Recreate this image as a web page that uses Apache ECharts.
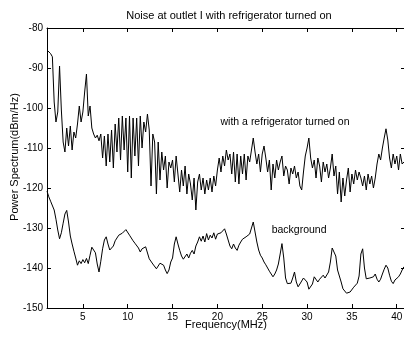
<!DOCTYPE html>
<html>
<head>
<meta charset="utf-8">
<script src="https://cdn.jsdelivr.net/npm/echarts@6/dist/echarts.min.js"></script>
<style>
  html, body { margin: 0; padding: 0; background: #fff; }
  #chart { width: 404px; height: 340px; }
</style>
</head>
<body>
<div id="chart"></div>
<script>
// Sampling grid of the spectrum (MHz)
const freqStart = 1.0;
const freqStep = 0.2;

// Power spectrum with the refrigerator running (dBm/Hz)
const withFridge = [
  -85.5, -86.0, -86.4, -87.2, -98.5, -103.5, -101, -89.5, -100.5, -108.5,
  -111, -105, -109.5, -104.5, -110.5, -106, -107.5, -104, -99.5, -103.5,
  -101, -96, -91.5, -102, -99.5, -105, -106.5, -107.5, -106.8, -108.2,
  -106.5, -112.5, -107, -114.5, -106.5, -113.5, -105.5, -115, -104, -111,
  -102.5, -113, -102, -110.5, -102.5, -116, -102, -117.5, -102.5, -112,
  -102.5, -114.5, -102, -110, -103.5, -106, -101.5, -105.5, -119.5, -106.5,
  -108.5, -121.5, -108.5, -118, -111, -115.5, -112, -120, -113.5, -115,
  -113, -118.5, -112, -116.5, -121, -115.5, -119.5, -114.5, -121.5, -116.5,
  -119, -123, -117.5, -125.5, -118.5, -116.5, -120.5, -117.5, -121.5, -118,
  -120.5, -117.5, -121, -117, -119.5, -115.5, -112.5, -116, -112, -114.5,
  -110.5, -113, -111.5, -116.5, -111, -118.5, -111.5, -119, -112, -116.5,
  -111.5, -118, -112, -113.5, -110.5, -107.5, -111, -114, -111.5, -116,
  -111.5, -109.5, -112.5, -116, -113, -120.5, -114, -117.5, -113, -115.5,
  -113.5, -112, -117, -114.5, -115.5, -119, -115, -116.5, -114.5, -117.5,
  -116, -119.5, -120.5, -116, -112, -110, -107.5, -112.5, -115, -113,
  -117.5, -112.5, -114.5, -118.5, -113.5, -116, -114, -117.5, -115, -111.5,
  -117, -114.5, -121.5, -116, -123.5, -117.5, -122, -118, -115, -121,
  -116.5, -119, -115.5, -118, -116, -117.5, -119.5, -117, -120.5, -116.5,
  -119, -117, -120, -117.5, -114, -111.5, -113, -110, -107.5, -105.2,
  -108, -112.5, -115, -111.5, -114, -112, -115.5, -111.5, -114, -113.5
];

// Background noise floor (dBm/Hz)
const background = [
  -120.8, -122.2, -123.3, -123.8, -125.5, -127.8, -130.5, -132.7, -131.2, -128.8,
  -126.5, -125.6, -128.5, -132, -134, -135.8, -137.5, -139.3, -138.2, -138.9,
  -137.9, -138.7, -137.6, -138.9, -136.8, -134.8, -134.3, -136.2, -139, -141,
  -138.3, -135.2, -133, -132.2, -134, -135.5, -136, -134.5, -133.2, -132.5,
  -131.8, -132.2, -131.3, -130.8, -130.4, -130.6, -131.8, -132.5, -133.2, -133.8,
  -134.3, -135, -136, -135.2, -135.6, -134.7, -135.2, -137.7, -138.2, -139,
  -139.5, -140.2, -139.5, -138.8, -138.5, -139.3, -140.5, -141.4, -140.5, -138.5,
  -137.5, -134, -132.2, -134, -135.6, -137, -137.8, -138.1, -136.5, -137.5,
  -136.3, -135.6, -136.5, -134.5, -133.5, -132.2, -133.3, -132, -133.5, -131.4,
  -133, -131.8, -132.5, -131.2, -132.8, -131.5, -132, -131.2, -131.6, -130.2,
  -131.5, -133, -134.5, -135.2, -134, -135, -135.6, -134.3, -133.5, -132.8,
  -133.3, -132.2, -132, -131.5, -130, -128.5, -131, -133.5, -135.5, -136.8,
  -137.5, -138.5, -139.2, -140, -140.8, -141.5, -142.2, -141.5, -140.5, -139,
  -136.5, -133.9, -137.5, -142.5, -143.9, -143.5, -143.8, -142.5, -141, -143.5,
  -144.7, -144, -143.5, -142.5, -142.7, -143.5, -145.3, -145.6, -144, -142.2,
  -142.5, -143.5, -142.8, -142.7, -141.8, -142.5, -142.2, -141, -138.5, -135,
  -134.8, -137, -140.5, -142, -143.5, -145.2, -145.5, -146.3, -146.8, -146,
  -145.5, -144.8, -144.3, -143.8, -142, -136.5, -135.2, -140, -142.7, -143.2,
  -142.5, -143, -142.2, -141.5, -142.8, -143.5, -142.8, -141.5, -140.3, -139.3,
  -140, -141.8, -143.3, -143.9, -143, -142.5, -142.2, -141.5, -140.5, -139.7
];

// Axis ticks
const xTicks = [5, 10, 15, 20, 25, 30, 35, 40];
const yTicks = [-150, -140, -130, -120, -110, -100, -90, -80];

// In-plot annotations: [text, frequency, level]
const notes = [
  ['with a refrigerator turned on', 20.35, -103.6],
  ['background', 26.05, -130.5]
];

const freq = withFridge.map((_, i) => +(freqStart + freqStep * i).toFixed(2));
const pairs = vals => vals.map((v, i) => [freq[i], v]);

const FONT = 'Liberation Sans, Arial, sans-serif';
const INK = '#000';

const chart = echarts.init(document.getElementById('chart'), null, { renderer: 'canvas' });

const tickStyle = { show: true, inside: true, length: 4, lineStyle: { color: INK, width: 1 } };

chart.setOption({
  animation: false,
  backgroundColor: '#fff',
  title: {
    text: 'Noise at outlet I with refrigerator turned on',
    left: 224,
    textAlign: 'center',
    top: 5,
    textStyle: { fontFamily: FONT, fontSize: 11, fontWeight: 'normal', color: INK }
  },
  grid: { left: 47, top: 28, width: 358, height: 280, show: false, outerBoundsMode: 'none' },
  xAxis: [
    {
      type: 'value', min: 1, max: 40.92, position: 'bottom',
      name: 'Frequency(MHz)', nameLocation: 'middle', nameGap: 11, nameMoveOverlap: false,
      nameTextStyle: { fontFamily: FONT, fontSize: 11, color: INK },
      axisLine: { show: true, onZero: false, lineStyle: { color: INK, width: 1 } },
      axisTick: Object.assign({}, tickStyle, { customValues: xTicks }),
      axisLabel: { customValues: xTicks, margin: 4, fontFamily: FONT, fontSize: 10, color: INK },
      splitLine: { show: false }
    },
    {
      type: 'value', min: 1, max: 40.92, position: 'top',
      axisLine: { show: true, onZero: false, lineStyle: { color: INK, width: 1 } },
      axisTick: Object.assign({}, tickStyle, { customValues: xTicks }),
      axisLabel: { show: false },
      splitLine: { show: false }
    }
  ],
  yAxis: [
    {
      type: 'value', min: -150, max: -80, interval: 10, position: 'left',
      name: 'Power Spectrum(dBm/Hz)', nameLocation: 'middle', nameGap: 27, nameMoveOverlap: false,
      nameTextStyle: { fontFamily: FONT, fontSize: 11, color: INK, padding: [0, 0, 0, 22] },
      axisLine: { show: true, onZero: false, lineStyle: { color: INK, width: 1 } },
      axisTick: tickStyle,
      axisLabel: { margin: 4, fontFamily: FONT, fontSize: 10, color: INK,
        customValues: yTicks },
      splitLine: { show: false }
    },
    {
      type: 'value', min: -150, max: -80, interval: 10, position: 'right',
      axisLine: { show: true, onZero: false, lineStyle: { color: INK, width: 1 } },
      axisTick: tickStyle,
      axisLabel: { show: false },
      splitLine: { show: false }
    }
  ],
  series: [
    {
      name: 'with a refrigerator turned on', type: 'line',
      data: pairs(withFridge), showSymbol: false, symbol: 'none',
      lineStyle: { color: INK, width: 1 }, silent: true
    },
    {
      name: 'background', type: 'line',
      data: pairs(background), showSymbol: false, symbol: 'none',
      lineStyle: { color: INK, width: 1 }, silent: true
    }
  ]
});

// Place the annotation texts in data coordinates
const texts = notes.map(([t, f, v]) => {
  const p = chart.convertToPixel({ xAxisIndex: 0, yAxisIndex: 0 }, [f, v]);
  return {
    type: 'text', x: p[0], y: p[1],
    style: { text: t, fill: INK, font: '10.5px ' + FONT, textAlign: 'left', textVerticalAlign: 'middle' }
  };
});
chart.setOption({ graphic: texts });
</script>
</body>
</html>
